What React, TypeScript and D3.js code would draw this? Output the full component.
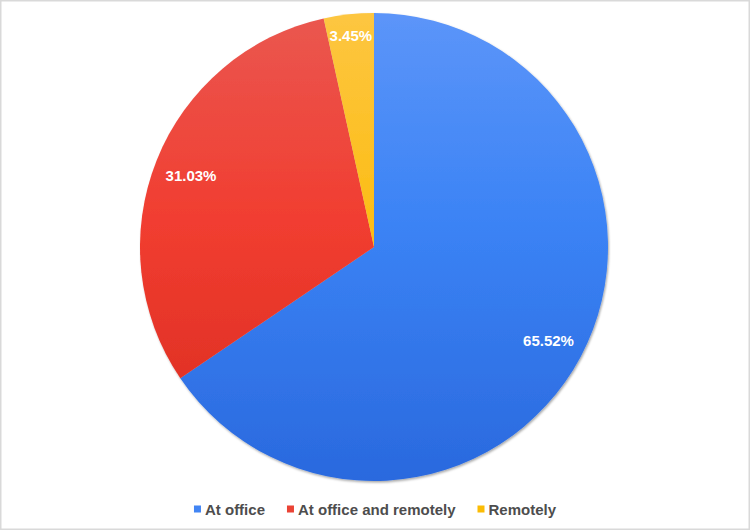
import React, { useEffect, useRef } from "react";
import * as d3 from "d3";

const categories = ["At office", "At office and remotely", "Remotely"];
const values = [65.52, 31.03, 3.45];
const topColors = ["#5c95f9", "#ea5750", "#fdc641"];
const midColors = ["#3b83f5", "#f13d30", "#fcbd16"];
const bottomColors = ["#2a69de", "#d82b20", "#f6b000"];
const legendColors = ["#4285f4", "#ea4335", "#fbbc04"];

const W = 750;
const H = 530;

export default function App() {
  const ref = useRef<SVGSVGElement>(null);

  useEffect(() => {
    const svg = d3.select(ref.current);
    svg.selectAll("*").remove();

    const cx = 374;
    const cy = 247;
    const r = 234;

    svg
      .append("rect")
      .attr("x", 0.75)
      .attr("y", 0.75)
      .attr("width", W - 1.5)
      .attr("height", H - 1.5)
      .attr("fill", "#fff")
      .attr("stroke", "#d9d9d9")
      .attr("stroke-width", 1.5);

    const defs = svg.append("defs");
    categories.forEach((_, i) => {
      const g = defs
        .append("linearGradient")
        .attr("id", `grad${i}`)
        .attr("gradientUnits", "userSpaceOnUse")
        .attr("x1", 0)
        .attr("y1", -r)
        .attr("x2", 0)
        .attr("y2", r);
      g.append("stop").attr("offset", "0%").attr("stop-color", topColors[i]);
      g.append("stop").attr("offset", "45%").attr("stop-color", midColors[i]);
      g.append("stop").attr("offset", "100%").attr("stop-color", bottomColors[i]);
    });
    const f = defs
      .append("filter")
      .attr("id", "shadow")
      .attr("x", "-10%")
      .attr("y", "-10%")
      .attr("width", "120%")
      .attr("height", "120%");
    f.append("feDropShadow")
      .attr("dx", 1)
      .attr("dy", 1.5)
      .attr("stdDeviation", 1.2)
      .attr("flood-color", "#000")
      .attr("flood-opacity", 0.35);

    const pie = d3
      .pie<number>()
      .sort(null)
      .value((d) => d);
    const arcs = pie(values);
    const arc = d3.arc<d3.PieArcDatum<number>>().innerRadius(0).outerRadius(r);

    const g = svg
      .append("g")
      .attr("transform", `translate(${cx},${cy})`)
      .attr("filter", "url(#shadow)");
    g.selectAll("path")
      .data(arcs)
      .enter()
      .append("path")
      .attr("d", arc)
      .attr("fill", (_, i) => `url(#grad${i})`);

    // labels
    const fontSize = 15;
    const pad = 11;
    const lg = svg.append("g");
    arcs.forEach((a, i) => {
      const txt = values[i].toFixed(2) + "%";
      const t = lg
        .append("text")
        .attr("font-family", "Liberation Sans, Arial, sans-serif")
        .attr("font-weight", "bold")
        .attr("font-size", fontSize)
        .attr("fill", "#fff")
        .attr("text-anchor", "middle")
        .attr("dominant-baseline", "central")
        .text(txt);
      const w = (t.node() as SVGTextElement).getComputedTextLength();
      const h = fontSize * 0.75;
      const mid = (a.startAngle + a.endAngle) / 2;
      const sx = Math.sin(mid);
      const sy = -Math.cos(mid);
      let d = r;
      for (; d > 0; d -= 0.5) {
        const bx = sx * d;
        const by = sy * d;
        let ok = true;
        for (const ox of [-w / 2, w / 2]) {
          for (const oy of [-h / 2, h / 2]) {
            if (Math.hypot(bx + ox, by + oy) > r - pad) ok = false;
          }
        }
        if (ok) break;
      }
      t.attr("x", cx + sx * d).attr("y", cy + sy * d + 1);
    });

    // legend
    const leg = svg.append("g");
    const ly = 509;
    const sq = 7;
    const gap = 4;
    const itemGap = 22;
    const items: { g: any; w: number }[] = [];
    categories.forEach((c, i) => {
      const ig = leg.append("g");
      ig.append("rect")
        .attr("x", 0)
        .attr("y", -sq / 2)
        .attr("width", sq)
        .attr("height", sq)
        .attr("fill", legendColors[i]);
      const t = ig
        .append("text")
        .attr("x", sq + gap)
        .attr("y", 0)
        .attr("dominant-baseline", "central")
        .attr("font-family", "Liberation Sans, Arial, sans-serif")
        .attr("font-weight", "bold")
        .attr("font-size", 15)
        .attr("fill", "#4d4d4d")
        .text(c);
      const w = sq + gap + (t.node() as SVGTextElement).getComputedTextLength();
      items.push({ g: ig, w });
    });
    const total = items.reduce((s, it) => s + it.w, 0) + itemGap * (items.length - 1);
    let x = W / 2 - total / 2;
    items.forEach((it) => {
      it.g.attr("transform", `translate(${x},${ly})`);
      x += it.w + itemGap;
    });
  }, []);

  return (
    <svg
      ref={ref}
      width={W}
      height={H}
      style={{ position: "absolute", left: 0, top: 0, display: "block" }}
    />
  );
}
